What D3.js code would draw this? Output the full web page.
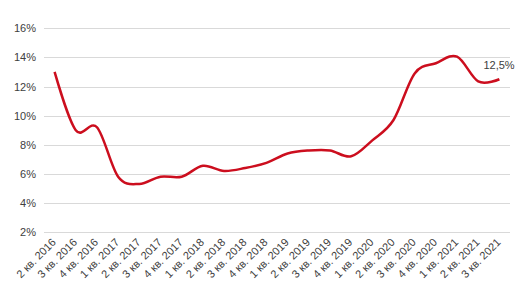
<!DOCTYPE html>
<html>
<head>
<meta charset="utf-8">
<script src="https://cdn.jsdelivr.net/npm/d3@7"></script>
<style>
  body { margin: 0; background: #fff; }
  svg { display: block; font-family: "Liberation Sans", Arial, sans-serif; }
</style>
</head>
<body>
<div id="chart"></div>
<script>
const categories = [
  "2 кв. 2016", "3 кв. 2016", "4 кв. 2016", "1 кв. 2017", "2 кв. 2017", "3 кв. 2017",
  "4 кв. 2017", "1 кв. 2018", "2 кв. 2018", "3 кв. 2018", "4 кв. 2018", "1 кв. 2019",
  "2 кв. 2019", "3 кв. 2019", "4 кв. 2019", "1 кв. 2020", "2 кв. 2020", "3 кв. 2020",
  "4 кв. 2020", "1 кв. 2021", "2 кв. 2021", "3 кв. 2021"
];
const values = [
  13.0, 9.0, 9.2, 5.8, 5.3, 5.8, 5.8, 6.55, 6.2, 6.4, 6.75, 7.4,
  7.6, 7.6, 7.2, 8.3, 9.7, 12.9, 13.6, 14.05, 12.35, 12.5
];
const yTicks = [2, 4, 6, 8, 10, 12, 14, 16];
const lastLabel = "12,5%";

const width = 526, height = 290;
const plotLeft = 44, plotRight = 510, plotTop = 28.3, plotBottom = 232;

const svg = d3.select("#chart").append("svg")
  .attr("width", width)
  .attr("height", height);

const x = d3.scalePoint()
  .domain(categories)
  .range([plotLeft, plotRight])
  .padding(0.5);

const y = d3.scaleLinear()
  .domain([2, 16])
  .range([plotBottom, plotTop]);

// gridlines
svg.append("g")
  .selectAll("line")
  .data(yTicks)
  .enter()
  .append("line")
  .attr("x1", plotLeft)
  .attr("x2", plotRight)
  .attr("y1", d => Math.round(y(d)) + 0.5)
  .attr("y2", d => Math.round(y(d)) + 0.5)
  .attr("stroke", "#d9d9d9")
  .attr("stroke-width", 1);

// y labels
svg.append("g")
  .selectAll("text")
  .data(yTicks)
  .enter()
  .append("text")
  .attr("x", 36)
  .attr("y", d => y(d) + 4)
  .attr("text-anchor", "end")
  .attr("font-size", 11)
  .attr("fill", "#404040")
  .text(d => d + "%");

// x labels
svg.append("g")
  .selectAll("text")
  .data(categories)
  .enter()
  .append("text")
  .attr("transform", d => `translate(${x(d) + 2},${plotBottom + 11}) rotate(-45)`)
  .attr("text-anchor", "end")
  .attr("font-size", 11)
  .attr("fill", "#404040")
  .text(d => d);

const line = d3.line()
  .x((d, i) => x(categories[i]))
  .y(d => y(d))
  .curve(d3.curveCardinal.tension(0));

svg.append("path")
  .datum(values)
  .attr("fill", "none")
  .attr("stroke", "#cc0e1e")
  .attr("stroke-width", 2.5)
  .attr("d", line);

const n = values.length - 1;
svg.append("text")
  .attr("x", x(categories[n]) - 16)
  .attr("y", y(values[n]) - 10)
  .attr("font-size", 11)
  .attr("fill", "#404040")
  .text(lastLabel);
</script>
</body>
</html>
